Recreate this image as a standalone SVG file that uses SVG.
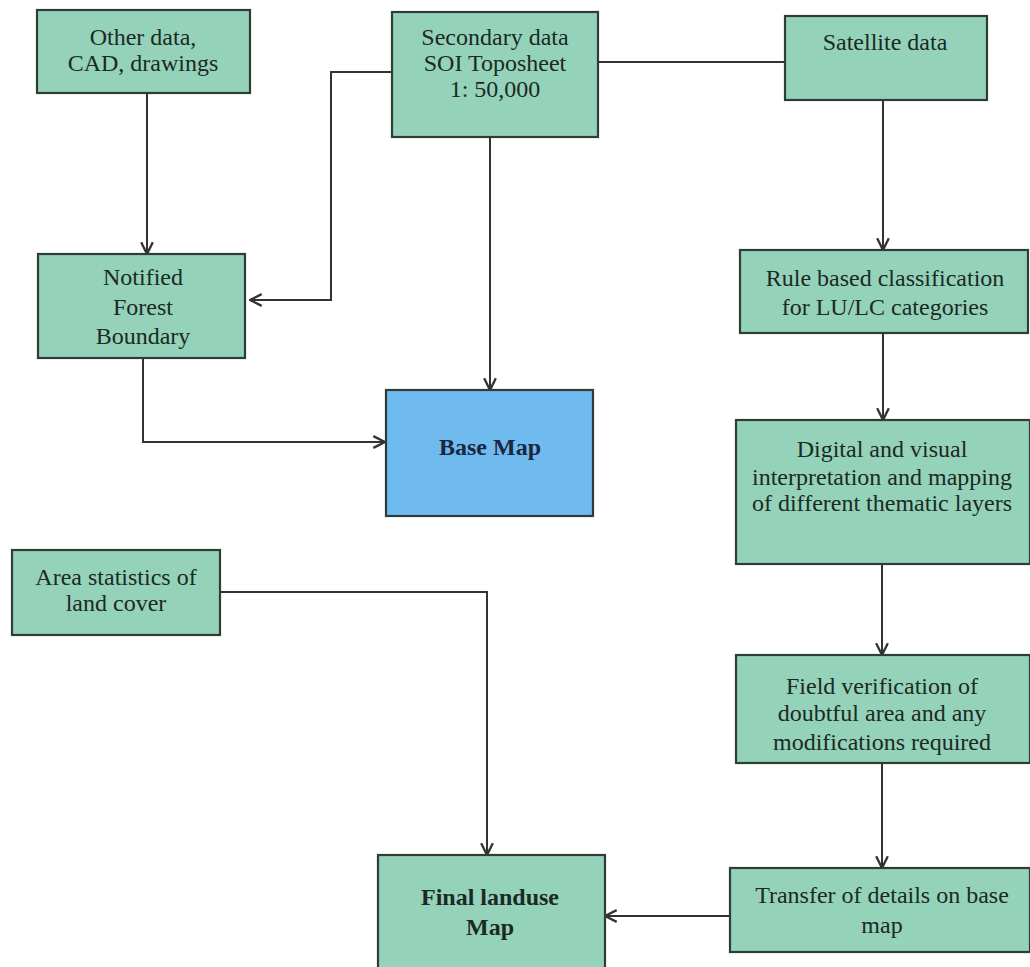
<svg xmlns="http://www.w3.org/2000/svg" width="1030" height="967" viewBox="0 0 1030 967">
<style>
.box{fill:#95d2ba;stroke:#2f3d37;stroke-width:2.2}
.blue{fill:#6fbaee;stroke:#2f3d37;stroke-width:2.2}
.t{font-family:"Liberation Serif","Times New Roman",serif;font-size:24px;fill:#1b2a24;text-anchor:middle}
.b{font-weight:bold}
.c{fill:none;stroke:#333;stroke-width:2}
</style>
<defs>
<marker id="ah" viewBox="0 0 12 12" refX="11" refY="6" markerWidth="14" markerHeight="14" markerUnits="userSpaceOnUse" orient="auto">
<path d="M1,1 L11,6 L1,11" fill="none" stroke="#333" stroke-width="2"/>
</marker>
</defs>
<rect width="1030" height="967" fill="#fff"/>
<g id="connectors">
<path class="c" d="M598,62 H785"/>
<path class="c" d="M392,72 H331 V300 H250" marker-end="url(#ah)"/>
<path class="c" d="M147,93 V254" marker-end="url(#ah)"/>
<path class="c" d="M490,137 V390" marker-end="url(#ah)"/>
<path class="c" d="M143,358 V442 H385" marker-end="url(#ah)"/>
<path class="c" d="M883,100 V250" marker-end="url(#ah)"/>
<path class="c" d="M883,333 V420" marker-end="url(#ah)"/>
<path class="c" d="M882,564 V655" marker-end="url(#ah)"/>
<path class="c" d="M882,763 V868" marker-end="url(#ah)"/>
<path class="c" d="M730,916 H605" marker-end="url(#ah)"/>
<path class="c" d="M220,592 H487 V855" marker-end="url(#ah)"/>
</g>
<g id="other">
<rect class="box" x="37" y="10" width="213" height="83"/>
<text class="t" x="143" y="45">Other data,</text>
<text class="t" x="143" y="71">CAD, drawings</text>
</g>
<g id="secondary">
<rect class="box" x="392" y="12" width="206" height="125"/>
<text class="t" x="495" y="45">Secondary data</text>
<text class="t" x="495" y="71">SOI Toposheet</text>
<text class="t" x="495" y="97">1: 50,000</text>
</g>
<g id="satellite">
<rect class="box" x="785" y="16" width="202" height="84"/>
<text class="t" x="885" y="50">Satellite data</text>
</g>
<g id="notified">
<rect class="box" x="38" y="254" width="207" height="104"/>
<text class="t" x="143" y="285">Notified</text>
<text class="t" x="143" y="315">Forest</text>
<text class="t" x="143" y="344">Boundary</text>
</g>
<g id="basemap">
<rect class="blue" x="386" y="390" width="207" height="126"/>
<text class="t b" x="490" y="455" style="fill:#1a2740">Base Map</text>
</g>
<g id="rule">
<rect class="box" x="740" y="250" width="288" height="83"/>
<text class="t" x="885" y="286">Rule based classification</text>
<text class="t" x="885" y="315">for LU/LC categories</text>
</g>
<g id="digital">
<rect class="box" x="736" y="420" width="294" height="144"/>
<text class="t" x="882" y="457">Digital and visual</text>
<text class="t" x="882" y="485">interpretation and mapping</text>
<text class="t" x="882" y="511">of different thematic layers</text>
</g>
<g id="field">
<rect class="box" x="736" y="655" width="294" height="108"/>
<text class="t" x="882" y="694">Field verification of</text>
<text class="t" x="882" y="721">doubtful area and any</text>
<text class="t" x="882" y="750">modifications required</text>
</g>
<g id="area">
<rect class="box" x="12" y="550" width="208" height="85"/>
<text class="t" x="116" y="585">Area statistics of</text>
<text class="t" x="116" y="611">land cover</text>
</g>
<g id="final">
<rect class="box" x="378" y="855" width="227" height="120"/>
<text class="t b" x="490" y="905">Final landuse</text>
<text class="t b" x="490" y="935">Map</text>
</g>
<g id="transfer">
<rect class="box" x="730" y="868" width="300" height="84"/>
<text class="t" x="882" y="903">Transfer of details on base</text>
<text class="t" x="882" y="933">map</text>
</g>
</svg>
